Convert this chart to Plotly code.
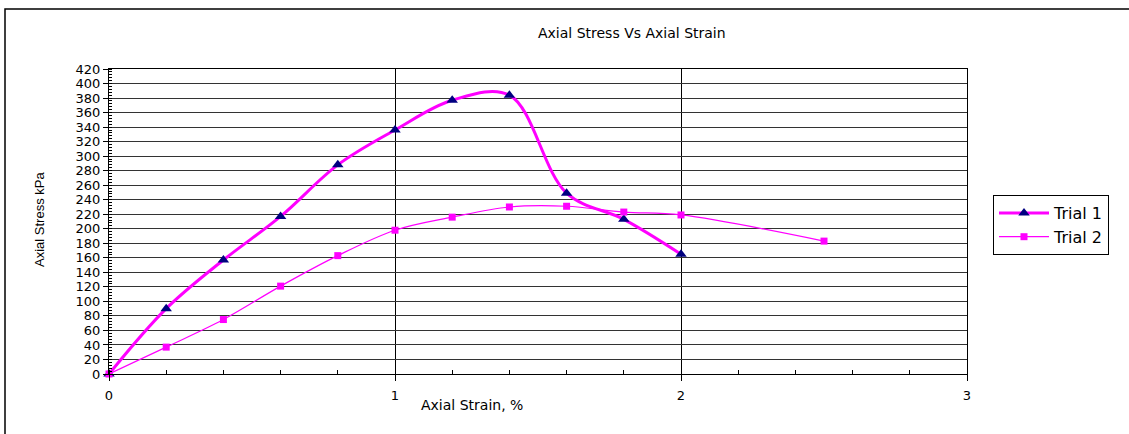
import plotly.graph_objects as go

strain1 = [0, 0.2, 0.4, 0.6, 0.8, 1.0, 1.2, 1.4, 1.6, 1.8, 2.0]
stress1 = [0, 90, 157, 217, 288, 336, 377, 384, 249, 213, 165]
strain2 = [0, 0.2, 0.4, 0.6, 0.8, 1.0, 1.2, 1.4, 1.6, 1.8, 2.0, 2.5]
stress2 = [0, 37, 75, 121, 163, 198, 216, 230, 231, 223, 219, 183]
x_ticks = [0, 1, 2, 3]

W, H = 1129, 434
L, R, T, B = 109, 967, 69, 374

def px(x):
    return (x - L) / (R - L)

def py(y):
    return (B - y) / (B - T)

FONT = "DejaVu Sans, Liberation Sans, Arial"

fig = go.Figure()
fig.add_trace(go.Scatter(
    x=strain1, y=stress1, name="Trial 1", mode="lines+markers",
    line=dict(color="#FF00FF", width=3, shape="spline", smoothing=1),
    marker=dict(symbol="triangle-up", size=10, color="#000080"),
    cliponaxis=False))
fig.add_trace(go.Scatter(
    x=strain2, y=stress2, name="Trial 2", mode="lines+markers",
    line=dict(color="#FF00FF", width=1.2, shape="spline", smoothing=1),
    marker=dict(symbol="square", size=7, color="#FF00FF"),
    cliponaxis=False))

fig.update_layout(
    width=W, height=H,
    margin=dict(l=L, r=W - R, t=T, b=H - B, pad=0),
    paper_bgcolor="white", plot_bgcolor="white",
    font=dict(family=FONT, color="black", size=13),
    showlegend=True,
    legend=dict(x=px(993), y=py(195), xanchor="left", yanchor="top",
                bordercolor="black", borderwidth=1, bgcolor="white",
                font=dict(size=16, family=FONT), tracegroupgap=0,
                itemwidth=50),
    xaxis=dict(range=[0, 3], tickvals=x_ticks, ticktext=[str(v) for v in x_ticks],
               showgrid=True, gridcolor="black", gridwidth=1,
               showline=True, linecolor="black", linewidth=1, mirror=True,
               zeroline=False, ticks="outside", ticklen=6, tickcolor="black",
               tickfont=dict(size=13), ticklabelstandoff=3,
               minor=dict(dtick=0.2, ticks="inside", ticklen=4, tickcolor="black", showgrid=False)),
    yaxis=dict(range=[0, 420], dtick=20, showgrid=True, gridcolor="#333", gridwidth=1,
               showline=True, linecolor="black", linewidth=1, mirror=True,
               zeroline=False, ticks="outside", ticklen=5, tickcolor="black",
               tickfont=dict(size=13),
               minor=dict(dtick=4, ticks="inside", ticklen=3, tickcolor="black", showgrid=False)),
    shapes=[dict(type="rect", xref="paper", yref="paper",
                 x0=px(5), x1=px(1140), y0=py(445), y1=py(9),
                 line=dict(color="black", width=1.5), layer="below")],
    annotations=[
        dict(text="Axial Stress Vs Axial Strain", x=px(632), y=py(33), xref="paper", yref="paper",
             showarrow=False, font=dict(size=14, family=FONT), xanchor="center", yanchor="middle"),
        dict(text="Axial Strain, %", x=px(472), y=py(405), xref="paper", yref="paper",
             showarrow=False, font=dict(size=14, family=FONT), xanchor="center", yanchor="middle"),
        dict(text="Axial Stress kPa", x=px(40), y=py(220), xref="paper", yref="paper",
             showarrow=False, textangle=-90,
             font=dict(size=13, family="Liberation Sans Narrow, Liberation Sans"),
             xanchor="center", yanchor="middle"),
    ],
)

fig.write_html("out.html")
